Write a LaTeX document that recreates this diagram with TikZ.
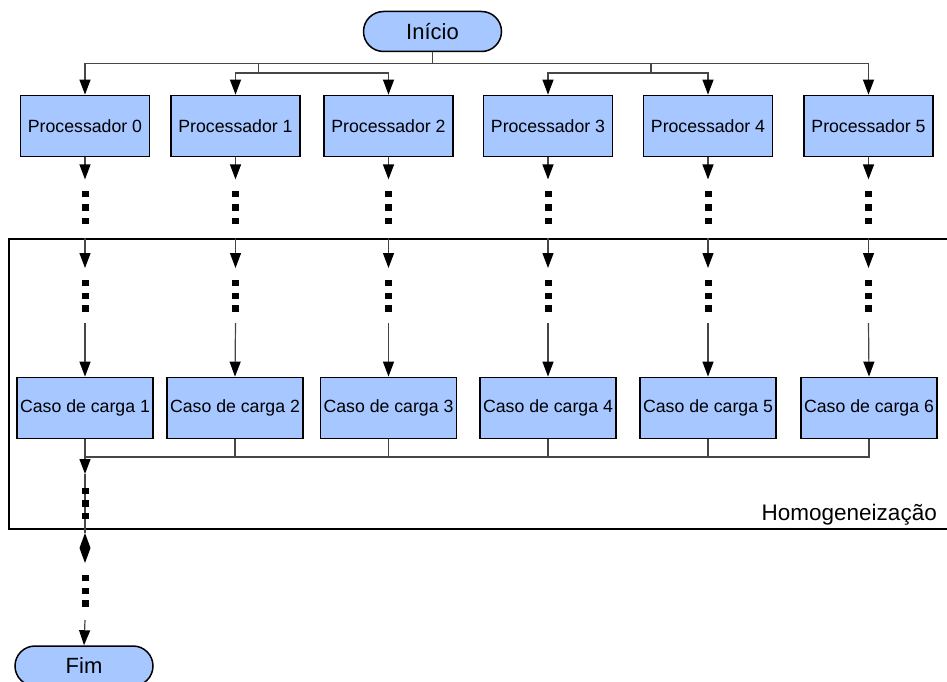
\documentclass[tikz,border=0pt]{standalone}
\usepackage{fontspec}
\setmainfont{Liberation Sans}
\usetikzlibrary{arrows.meta,shapes.geometric}
\definecolor{boxfill}{RGB}{166,199,255}
\definecolor{wirecol}{RGB}{70,70,70}

\begin{document}
\begin{tikzpicture}[x=1pt,y=-1pt,
  procbox/.style={draw=black, line width=1.8pt, fill=boxfill,
    minimum width=129pt, minimum height=61pt, inner sep=0pt,
    font=\fontsize{17.7}{20}\selectfont},
  casebox/.style={procbox, minimum width=136pt},
  terminal/.style={draw=black, line width=1.5pt, fill=boxfill,
    rounded corners=20pt, minimum width=138pt, minimum height=40pt,
    inner sep=0pt, font=\fontsize{22}{26}\selectfont},
  wire/.style={draw=wirecol, line width=1.2pt},
  flow/.style={wire, -{Triangle[width=11pt,length=15pt,color=black]}},
  pausedot/.style={fill=black, minimum width=7pt, minimum height=6.5pt, inner sep=0pt},
  hinge/.style={diamond, fill=black, minimum width=11pt, minimum height=30pt, inner sep=0pt, outer sep=0pt},
  frameline/.style={draw=black, line width=1.6pt}]

\useasboundingbox (0,0) rectangle (947,682);
\clip (0,0) rectangle (947,682);

% start terminal and processor row
\node[terminal] (start) at (432.5,31.5) {Início};
\foreach \i/\x in {0/85,1/235.5,2/388.5,3/548,4/708,5/868.5}
  \node[procbox] (p\i) at (\x,126) {Processador \i};

% load case row
\foreach \i/\x in {1/85,2/235,3/388.5,4/548,5/708,6/869}
  \node[casebox] (c\i) at (\x,408) {Caso de carga \i};

% end terminal
\node[terminal] (end) at (84,666) {Fim};

% homogenisation frame (open to the right)
\draw[frameline] (960,239) -- (9,239) -- (9,529) -- (960,529);
\node[anchor=base east, inner sep=0pt, font=\fontsize{22.5}{26}\selectfont]
  (homlabel) at (937,520) {Homogeneização};

% fan-out from the start terminal
\draw[wire] (start.south) -- ++(0,11.5) coordinate (j0);
\draw[flow] (j0) -| (p0);
\draw[flow] (j0) -| (p5);
\coordinate (jl) at (258.5,63);
\coordinate (jr) at (651,63);
\draw[wire] (jl) -- ++(0,10) coordinate (jl2);
\draw[wire] (jr) -- ++(0,10) coordinate (jr2);
\draw[flow] (jl2) -| (p1);
\draw[flow] (jl2) -| (p2);
\draw[flow] (jr2) -| (p3);
\draw[flow] (jr2) -| (p4);

% interrupted flows from each processor to its load case
\foreach \i/\j in {0/1,1/2,2/3,3/4,4/5,5/6}{
  \path (p\i.south) ++(0,22) coordinate (t\i);
  \draw[flow] (p\i.south) -- (t\i);
  \foreach \y in {194,207.5,221}
    \node[pausedot] at (p\i.south |- 0,\y) {};
  \coordinate (f\i) at (p\i.south |- 0,238);
  \coordinate (g\i) at (p\i.south |- 0,268);
  \draw[flow] (f\i) -- (g\i);
  \foreach \y in {283,296,308.5}
    \node[pausedot] at (p\i.south |- 0,\y) {};
  \coordinate (h\i) at (p\i.south |- 0,323);
  \draw[flow] (h\i) -- (c\j.north);
}

% gathering of the load cases
\coordinate (m) at (85,457);
\draw[wire] (c6.south) |- (m);
\foreach \j in {2,3,4,5}
  \draw[wire] (c\j.south) -- (c\j.south |- m);
\coordinate (b1) at (85,474);
\draw[flow] (c1.south) -- (b1);
\node[hinge] (hg) at (85,548) {};
\draw[wire] (b1) -- (hg.north);
\foreach \y in {491,503.5,516}
  \node[pausedot] at (85,\y) {};
\foreach \y in {578,591,603.5}
  \node[pausedot] at (85,\y) {};
\coordinate (e1) at (85,620);
\draw[flow] (e1) -- (end.north);

\end{tikzpicture}
\end{document}
